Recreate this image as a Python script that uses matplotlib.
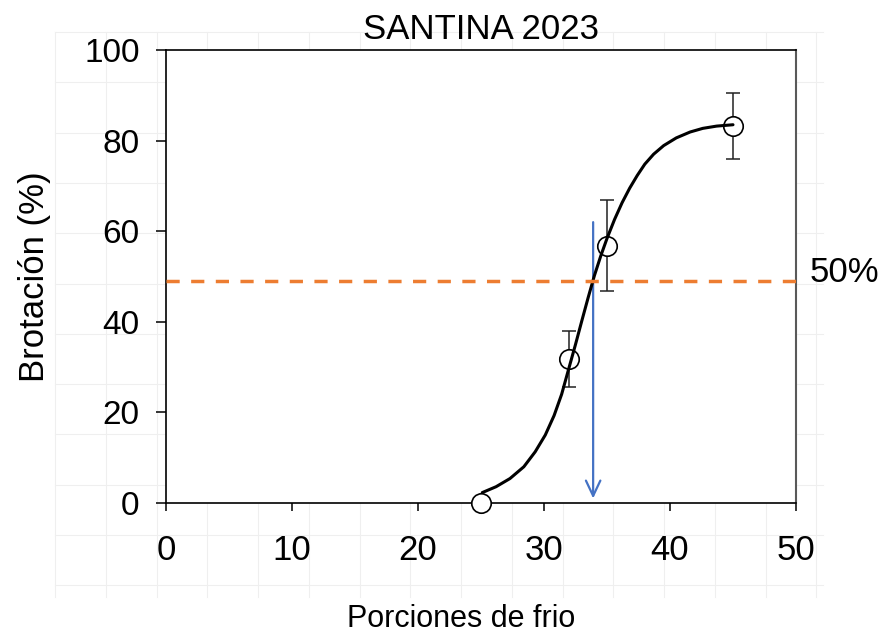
import matplotlib
matplotlib.use("Agg")
import matplotlib.pyplot as plt
from matplotlib import font_manager as fm
import numpy as np

# ---------------- data ----------------
title = "SANTINA 2023"
xlabel = "Porciones de frio"
ylabel = "Brotación (%)"

x_obs = [25, 32, 35, 45]
y_obs = [0, 31.8, 56.8, 83.2]
y_err = [0, 6.2, 10.0, 7.3]

# fitted curve
x_fit = [25.1, 26.2, 27.3, 28.4, 29.3, 30.1, 30.8, 31.4, 32.0, 32.5, 33.0, 33.5,
         34.0, 34.5, 35.0, 35.6, 36.2, 36.8, 37.4, 38.0, 38.7, 39.5, 40.5, 41.6,
         42.6, 43.7, 45.0]
y_fit = [2.3, 3.6, 5.4, 8.0, 11.3, 15.0, 19.3, 24.0, 30.0, 35.0, 40.2, 45.3,
         50.2, 54.5, 58.4, 62.6, 66.3, 69.5, 72.3, 74.8, 77.0, 78.9, 80.6, 81.9,
         82.7, 83.2, 83.5]

threshold_y = 48.9          # dashed line (50 %)
threshold_label = "50%"
x50 = 33.9                  # arrow position
arrow_top = 62.0
arrow_bottom = 1.0

x_ticks = [0, 10, 20, 30, 40, 50]
y_ticks = [0, 20, 40, 60, 80, 100]

# ---------------- style ----------------
plt.rcParams['font.family'] = ['Liberation Sans', 'DejaVu Sans']
names = {f.name for f in fm.fontManager.ttflist}
narrow_ok = 'Liberation Sans Narrow' in names

W, H = 885, 636
fig = plt.figure(figsize=(W / 100, H / 100), dpi=100)

# faint spreadsheet cell grid behind the chart
bg = fig.add_axes([0, 0, 1, 1], zorder=-10)
bg.set_xlim(0, W)
bg.set_ylim(H, 0)
bg.axis('off')
gx0, gx1, gy0, gy1 = 55, 823, 32, 597
for gx in np.arange(gx0, gx1, 50.75):
    bg.plot([gx, gx], [gy0, gy1], color='#efefef', lw=0.8)
for gy in np.arange(gy0, gy1, 50.3):
    bg.plot([gx0, gx1], [gy, gy], color='#efefef', lw=0.8)

ax = fig.add_axes([166 / W, 1 - 503 / H, (796 - 166) / W, (503 - 50) / H])
ax.set_facecolor('white')
ax.set_xlim(0, 50)
ax.set_ylim(0, 100)

# threshold dashed line
ax.plot([0, 50], [threshold_y, threshold_y], color='#ED7D31', lw=2.5,
        dashes=(3.8, 3.3), zorder=7, dash_capstyle='butt')

# arrow
ax.annotate('', xy=(x50, arrow_bottom), xytext=(x50, arrow_top),
            arrowprops=dict(arrowstyle='->,head_length=0.55,head_width=0.26',
                            color='#4472C4', lw=1.6, mutation_scale=20,
                            shrinkA=0, shrinkB=0), zorder=4)

# error bars
ax.errorbar(x_obs, y_obs, yerr=y_err, fmt='none', ecolor='#222222',
            elinewidth=1.1, capsize=5, capthick=1.1, zorder=2)
# markers
ax.plot(x_obs, y_obs, 'o', ms=14, mfc='white', mec='black', mew=1.2,
        zorder=3, clip_on=False)
# fitted curve
ax.plot(x_fit, y_fit, color='black', lw=2.2, zorder=6,
        solid_capstyle='round', solid_joinstyle='round')

# spines & ticks
for s in ['left', 'bottom', 'top']:
    ax.spines[s].set_color('black')
    ax.spines[s].set_linewidth(1.2)
ax.spines['right'].set_color('#595959')
ax.spines['right'].set_linewidth(1.5)
ax.set_xticks(x_ticks)
ax.set_yticks(y_ticks)
ax.tick_params(axis='y', direction='out', length=7, width=1.1, labelsize=24, pad=12)
ax.tick_params(axis='x', direction='out', length=6, width=1.1, labelsize=25, pad=16)

ax.set_title(title, fontsize=25, pad=8)
ax.set_xlabel(xlabel, fontsize=22, va='center')
ax.xaxis.set_label_coords((461.5 - 166) / 630, (503 - 619) / 453)
ax.set_ylabel(ylabel, fontsize=25, va='center')
ax.yaxis.set_label_coords((35 - 166) / 630, 0.5)

if narrow_ok:
    ax.text(51.1, 50.8, threshold_label, fontsize=29, ha='left', va='center',
            family=['Liberation Sans Narrow', 'DejaVu Sans'], clip_on=False)
else:
    ax.text(51.1, 50.8, threshold_label, fontsize=25, ha='left', va='center',
            clip_on=False)

fig.savefig('out.png', dpi=100)
